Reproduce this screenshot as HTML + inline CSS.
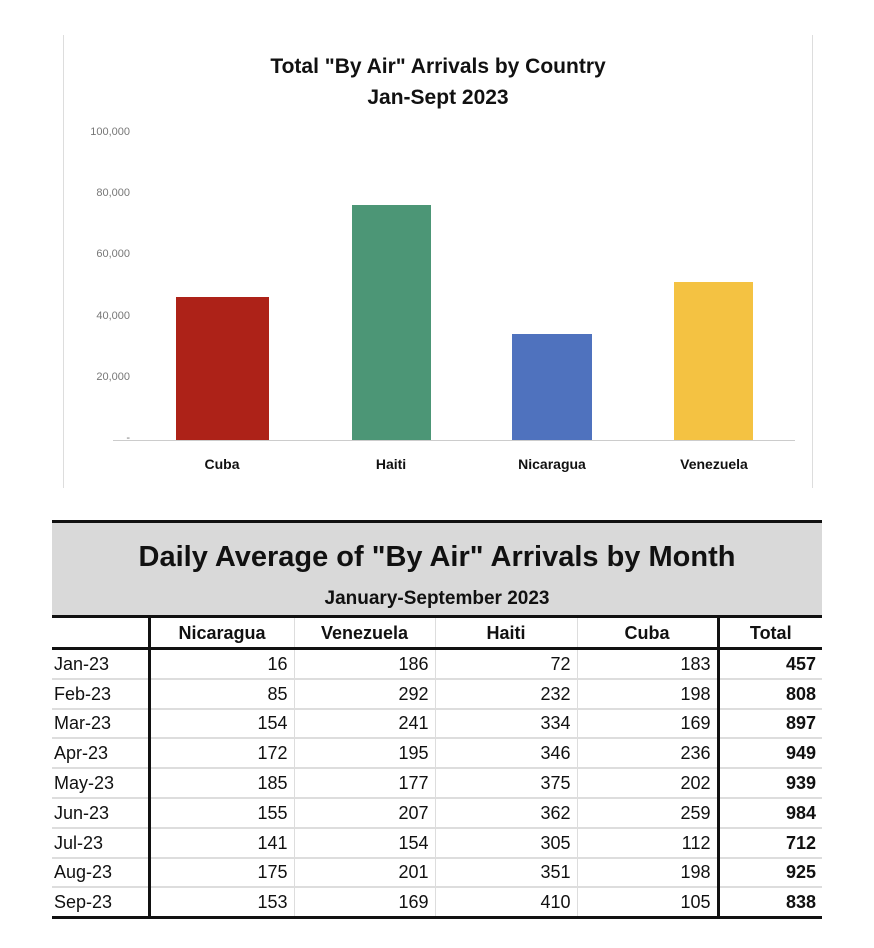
<!DOCTYPE html>
<html><head><meta charset="utf-8"><style>
body{margin:0;width:874px;height:948px;background:#fff;position:relative;font-family:"Liberation Sans",sans-serif;overflow:hidden}
.a{position:absolute}
.yl{position:absolute;left:70px;width:60px;text-align:right;font-size:11px;color:#777}
.xl{position:absolute;top:456px;width:120px;text-align:center;font-size:14px;font-weight:bold;color:#111}
table{position:absolute;left:52px;border-collapse:collapse;font-size:18px;color:#111;table-layout:fixed}
td{height:27.8px;padding:0 6px;border-bottom:2px solid #ddd;border-right:1px solid #ddd;text-align:right;line-height:26px}
td:first-child{text-align:left;border-right:3px solid #111;padding-left:2px}
td:nth-child(5){border-right:3px solid #111}
td:last-child{font-weight:bold;border-right:none}
tr.h td{text-align:center;font-weight:bold;border-bottom:3px solid #111;height:29px}
tr.last td{border-bottom:3px solid #111}
</style></head><body>
<div class="a" style="left:63px;top:35px;width:1px;height:453px;background:#ddd"></div>
<div class="a" style="left:812px;top:35px;width:1px;height:453px;background:#ddd"></div>
<div class="a" style="left:63px;top:51px;width:750px;text-align:center;font-size:21px;font-weight:bold;line-height:31px;color:#111">Total "By Air" Arrivals by Country<br>Jan-Sept 2023</div>
<div class="yl" style="top:126px">100,000</div>
<div class="yl" style="top:187px">80,000</div>
<div class="yl" style="top:248px">60,000</div>
<div class="yl" style="top:310px">40,000</div>
<div class="yl" style="top:371px">20,000</div>
<div class="yl" style="top:432px">-</div>
<div class="a" style="left:113px;top:440px;width:682px;height:1px;background:#ccc"></div>
<div class="a" style="left:176px;top:297px;width:93px;height:143px;background:#ad2218"></div>
<div class="a" style="left:352px;top:205px;width:79px;height:235px;background:#4c9676"></div>
<div class="a" style="left:512px;top:334px;width:80px;height:106px;background:#4f72be"></div>
<div class="a" style="left:674px;top:282px;width:79px;height:158px;background:#f4c242"></div>
<div class="xl" style="left:162px">Cuba</div>
<div class="xl" style="left:331px">Haiti</div>
<div class="xl" style="left:492px">Nicaragua</div>
<div class="xl" style="left:654px">Venezuela</div>
<div class="a" style="left:52px;top:520px;width:770px;height:97px;background:#d9d9d9;border-top:3px solid #111;box-sizing:border-box"></div>
<div class="a" style="left:52px;top:541px;width:770px;text-align:center;font-size:29px;font-weight:bold;color:#111">Daily Average of "By Air" Arrivals by Month</div>
<div class="a" style="left:52px;top:588px;width:770px;text-align:center;font-size:19px;font-weight:bold;color:#111">January-September 2023</div>
<div class="a" style="left:52px;top:615px;width:770px;height:3px;background:#111"></div>
<table style="top:618px;width:770px">
<colgroup><col style="width:97px"><col style="width:145px"><col style="width:141px"><col style="width:142px"><col style="width:141px"><col style="width:104px"></colgroup>
<tr class="h"><td></td><td>Nicaragua</td><td>Venezuela</td><td>Haiti</td><td>Cuba</td><td>Total</td></tr>
<tr><td>Jan-23</td><td>16</td><td>186</td><td>72</td><td>183</td><td>457</td></tr>
<tr><td>Feb-23</td><td>85</td><td>292</td><td>232</td><td>198</td><td>808</td></tr>
<tr><td>Mar-23</td><td>154</td><td>241</td><td>334</td><td>169</td><td>897</td></tr>
<tr><td>Apr-23</td><td>172</td><td>195</td><td>346</td><td>236</td><td>949</td></tr>
<tr><td>May-23</td><td>185</td><td>177</td><td>375</td><td>202</td><td>939</td></tr>
<tr><td>Jun-23</td><td>155</td><td>207</td><td>362</td><td>259</td><td>984</td></tr>
<tr><td>Jul-23</td><td>141</td><td>154</td><td>305</td><td>112</td><td>712</td></tr>
<tr><td>Aug-23</td><td>175</td><td>201</td><td>351</td><td>198</td><td>925</td></tr>
<tr class="last"><td>Sep-23</td><td>153</td><td>169</td><td>410</td><td>105</td><td>838</td></tr>
</table>
</body></html>
